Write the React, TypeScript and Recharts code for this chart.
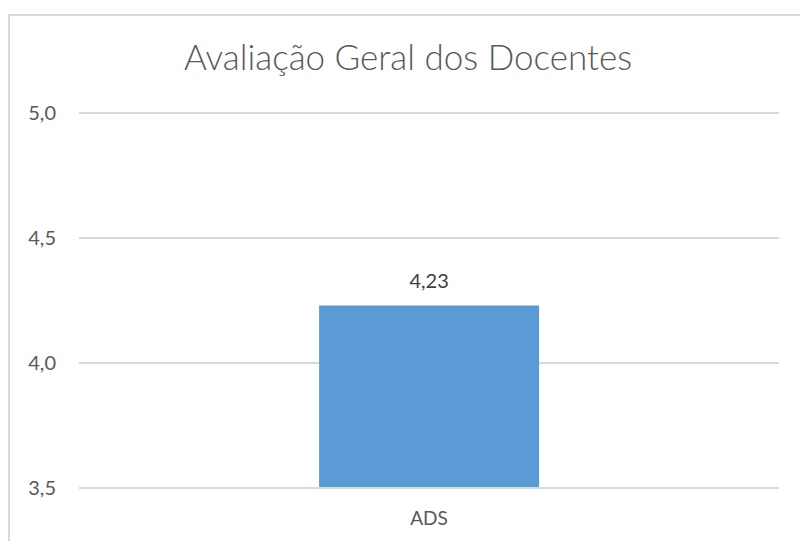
import React from "react";
import { BarChart, Bar, XAxis, YAxis, CartesianGrid, LabelList } from "recharts";

const categories = ["ADS"];
const values = [4.23];
const yTicks = [3.5, 4.0, 4.5, 5.0];
const title = "Avaliação Geral dos Docentes";

const data = categories.map((c, i) => ({ name: c, value: values[i] }));
const fmt = (v: number, d: number) => v.toFixed(d).replace(".", ",");
const FONT = "Lato, 'Open Sans', sans-serif";

export default function App() {
  return (
    <div style={{ position: "absolute", left: 0, top: 0, width: 800, height: 541, overflow: "hidden", background: "#fff" }}>
      <div style={{ position: "absolute", left: 8, top: 14, width: 840, height: 600, border: "2px solid #d9d9d9", boxSizing: "border-box" }} />
      <div style={{ position: "absolute", left: 0, top: 36, width: 816, textAlign: "center", fontFamily: FONT, fontSize: 35, fontWeight: 300, color: "#595959", lineHeight: "40px", whiteSpace: "nowrap" }}>
        {title}
      </div>
      <div style={{ position: "absolute", left: 0, top: 0 }}>
        <BarChart width={800} height={541} data={data} margin={{ top: 113, right: 21, bottom: 13, left: 0 }} barCategoryGap="34.3%">
          <CartesianGrid vertical={false} stroke="#d9d9d9" strokeWidth={2} />
          <XAxis dataKey="name" axisLine={{ stroke: "#d9d9d9", strokeWidth: 2 }} tickLine={false} tickSize={0} tickMargin={24} height={40}
            tick={{ fill: "#595959", fontSize: 19, fontFamily: FONT }} />
          <YAxis width={79} domain={[3.5, 5]} ticks={yTicks} axisLine={false} tickLine={false} tickSize={0} tickMargin={23}
            tickFormatter={(v: number) => fmt(v, 1)} tick={{ fill: "#595959", fontSize: 20, fontFamily: FONT }} />
          <Bar dataKey="value" fill="#5b9bd5" isAnimationActive={false}>
            <LabelList dataKey="value" position="top" offset={18} formatter={(v: number) => fmt(v, 2)}
              style={{ fill: "#404040", fontSize: 20, fontFamily: FONT }} />
          </Bar>
        </BarChart>
      </div>
    </div>
  );
}
